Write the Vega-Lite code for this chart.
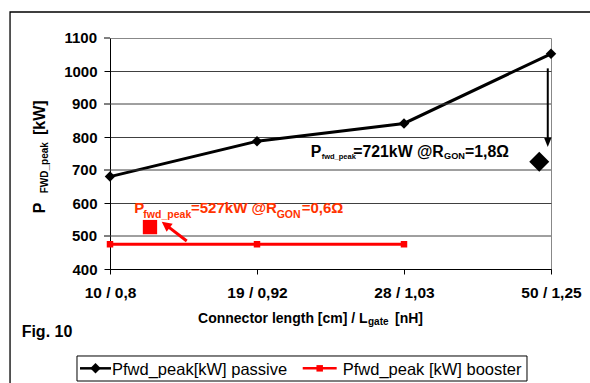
{
  "$schema": "https://vega.github.io/schema/vega-lite/v6.json",
  "width": 441,
  "height": 231,
  "autosize": {"type": "none"},
  "padding": {"left": 110, "top": 38, "right": 39, "bottom": 114},
  "background": "white",
  "config": {
    "view": {"stroke": "#888888", "strokeWidth": 1},
    "font": "Liberation Sans",
    "axisY": {"tickCount": 7, "format": "d", "grid": true, "gridColor": "#404040", "gridOpacity": 1, "tickSize": 6, "tickColor": "black", "domainColor": "black",
      "labelFont": "Liberation Sans", "labelFontWeight": "bold", "labelFontSize": 15, "labelColor": "black", "labelPadding": 7, "labelOverlap": false},
    "axisX": {"grid": false, "tickSize": 5, "tickColor": "black", "domainColor": "black", "labelFlush": false, "labelOverlap": false,
      "labelFont": "Liberation Sans", "labelFontWeight": "bold", "labelFontSize": 15.5, "labelColor": "black", "labelPadding": 11}
  },
  "layer": [
    {
      "data": {"values": [
        {"x": 0, "v": 680, "s": "Pfwd_peak[kW] passive"},
        {"x": 1, "v": 787, "s": "Pfwd_peak[kW] passive"},
        {"x": 2, "v": 841, "s": "Pfwd_peak[kW] passive"},
        {"x": 3, "v": 1052, "s": "Pfwd_peak[kW] passive"},
        {"x": 0, "v": 475, "s": "Pfwd_peak [kW] booster"},
        {"x": 1, "v": 475, "s": "Pfwd_peak [kW] booster"},
        {"x": 2, "v": 475, "s": "Pfwd_peak [kW] booster"}
      ]},
      "layer": [
        {
          "mark": {"type": "line", "strokeWidth": 3},
          "encoding": {
            "x": {"field": "x", "type": "quantitative",
              "scale": {"domain": [0, 3], "nice": false, "zero": false},
              "axis": {"title": null, "values": [0, 1, 2, 3],
                "labelExpr": "['10 / 0,8','19 / 0,92','28 / 1,03','50 / 1,25'][datum.value]"}},
            "y": {"field": "v", "type": "quantitative",
              "scale": {"domain": [400, 1100], "nice": false, "zero": false},
              "axis": {"title": null, "values": [400, 500, 600, 700, 800, 900, 1000, 1100], "format": "d"}},
            "color": {"field": "s", "type": "nominal",
              "scale": {"domain": ["Pfwd_peak[kW] passive", "Pfwd_peak [kW] booster"], "range": ["#000000", "#ff0000"]},
              "legend": null}
          }
        },
        {
          "mark": {"type": "point", "filled": true, "opacity": 1},
          "encoding": {
            "x": {"field": "x", "type": "quantitative"},
            "y": {"field": "v", "type": "quantitative"},
            "color": {"field": "s", "type": "nominal", "legend": null},
            "shape": {"field": "s", "type": "nominal",
              "scale": {"domain": ["Pfwd_peak[kW] passive", "Pfwd_peak [kW] booster"], "range": ["diamond", "square"]}, "legend": null},
            "size": {"field": "s", "type": "nominal",
              "scale": {"domain": ["Pfwd_peak[kW] passive", "Pfwd_peak [kW] booster"], "range": [110, 42]}, "legend": null}
          }
        }
      ]
    },
    {
      "data": {"values": [{"g": 500}, {"g": 700}, {"g": 900}]},
      "mark": {"type": "rule", "color": "#404040", "strokeWidth": 1},
      "encoding": {"y": {"field": "g", "type": "quantitative"}}
    },
    {
      "data": {"values": [{"g": 500}, {"g": 700}, {"g": 900}, {"g": 1100}]},
      "mark": {"type": "rule", "color": "black", "strokeWidth": 1},
      "encoding": {"x": {"datum": -0.0408}, "x2": {"datum": 0}, "y": {"field": "g", "type": "quantitative"}}
    },
    {
      "data": {"values": [{"g": 500, "t": "500"}, {"g": 700, "t": "700"}, {"g": 900, "t": "900"}, {"g": 1100, "t": "1100"}]},
      "mark": {"type": "text", "align": "right", "baseline": "middle", "font": "Liberation Sans", "fontWeight": "bold", "fontSize": 15, "color": "black"},
      "encoding": {"x": {"datum": -0.0884}, "y": {"field": "g", "type": "quantitative"}, "text": {"field": "t", "type": "nominal"}}
    },
    {
      "data": {"values": [{}]},
      "mark": {"type": "rect", "fillOpacity": 0, "stroke": "black", "strokeWidth": 1.3},
      "encoding": {"x": {"datum": -0.68}, "x2": {"datum": 3.6}, "y": {"datum": 1178.8}, "y2": {"datum": -100}}
    },
    {
      "data": {"values": [{}]},
      "mark": {"type": "point", "shape": "diamond", "filled": true, "color": "black", "opacity": 1, "size": 400},
      "encoding": {"x": {"datum": 2.92}, "y": {"datum": 725}}
    },
    {
      "data": {"values": [{}]},
      "mark": {"type": "point", "shape": "square", "filled": true, "color": "#ff0000", "opacity": 1, "size": 205},
      "encoding": {"x": {"datum": 0.272}, "y": {"datum": 527}}
    },
    {
      "data": {"values": [{}]},
      "mark": {"type": "rule", "color": "black", "strokeWidth": 2},
      "encoding": {"x": {"datum": 2.978}, "y": {"datum": 1008}, "y2": {"datum": 797}}
    },
    {
      "data": {"values": [{}]},
      "mark": {"type": "point", "shape": "M0,0L-0.4,1L0.4,1Z", "filled": true, "color": "black", "opacity": 1, "size": 324, "angle": 180},
      "encoding": {"x": {"datum": 2.978}, "y": {"datum": 770}}
    },
    {
      "data": {"values": [{}]},
      "mark": {"type": "rule", "color": "#ff0000", "strokeWidth": 3},
      "encoding": {"x": {"datum": 0.522}, "y": {"datum": 484.8}, "x2": {"datum": 0.395}, "y2": {"datum": 528.5}}
    },
    {
      "data": {"values": [{}]},
      "mark": {"type": "point", "shape": "M0,0L-0.5,1L0.5,1Z", "filled": true, "color": "#ff0000", "opacity": 1, "size": 400, "angle": 307.7},
      "encoding": {"x": {"datum": 0.352}, "y": {"datum": 543.3}}
    },
    {
      "data": {"values": [{}]},
      "mark": {"type": "rect", "fill": "white", "stroke": "black", "strokeWidth": 1},
      "encoding": {"x": {"datum": -0.2245}, "x2": {"datum": 2.8367}, "y": {"datum": 136.4}, "y2": {"datum": 60.6}}
    },
    {
      "data": {"values": [
        {"x": -0.204, "x2": 0.0068, "y": 99, "s": "Pfwd_peak[kW] passive"},
        {"x": 1.311, "x2": 1.542, "y": 99, "s": "Pfwd_peak [kW] booster"}
      ]},
      "mark": {"type": "rule", "strokeWidth": 2.5},
      "encoding": {"x": {"field": "x", "type": "quantitative"}, "x2": {"field": "x2"}, "y": {"field": "y", "type": "quantitative"},
        "color": {"field": "s", "type": "nominal", "legend": null}}
    },
    {
      "data": {"values": [
        {"x": -0.0986, "y": 99, "s": "Pfwd_peak[kW] passive"},
        {"x": 1.4265, "y": 99, "s": "Pfwd_peak [kW] booster"}
      ]},
      "mark": {"type": "point", "filled": true, "opacity": 1},
      "encoding": {"x": {"field": "x", "type": "quantitative"}, "y": {"field": "y", "type": "quantitative"},
        "color": {"field": "s", "type": "nominal", "legend": null},
        "shape": {"field": "s", "type": "nominal", "legend": null},
        "size": {"field": "s", "type": "nominal", "legend": null}}
    },
    {
      "data": {"values": [
        {"x": 0.0136, "y": 77.3, "t": "Pfwd_peak[kW] passive"},
        {"x": 1.583, "y": 77.3, "t": "Pfwd_peak [kW] booster"}
      ]},
      "mark": {"type": "text", "align": "left", "baseline": "alphabetic", "font": "Liberation Sans", "fontSize": 16.5, "color": "black"},
      "encoding": {"x": {"field": "x", "type": "quantitative"}, "y": {"field": "y", "type": "quantitative"}, "text": {"field": "t", "type": "nominal"}}
    },
    {
      "data": {"values": [
        {"x": 1.365, "y": 740.3, "t": "P"},
        {"x": 1.655, "y": 740.3, "t": "=721kW @R"},
        {"x": 2.415, "y": 740.3, "t": "=1,8Ω"}
      ]},
      "mark": {"type": "text", "align": "left", "baseline": "alphabetic", "font": "Liberation Sans", "fontWeight": "bold", "fontSize": 15.8, "color": "black"},
      "encoding": {"x": {"field": "x", "type": "quantitative"}, "y": {"field": "y", "type": "quantitative"}, "text": {"field": "t", "type": "nominal"}}
    },
    {
      "data": {"values": [{"x": 1.44, "y": 734.8, "t": "fwd_peak"}]},
      "mark": {"type": "text", "align": "left", "baseline": "alphabetic", "font": "Liberation Sans", "fontWeight": "bold", "fontSize": 7.5, "color": "black"},
      "encoding": {"x": {"field": "x", "type": "quantitative"}, "y": {"field": "y", "type": "quantitative"}, "text": {"field": "t", "type": "nominal"}}
    },
    {
      "data": {"values": [{"x": 2.272, "y": 734.8, "t": "GON"}]},
      "mark": {"type": "text", "align": "left", "baseline": "alphabetic", "font": "Liberation Sans", "fontWeight": "bold", "fontSize": 9.2, "color": "black"},
      "encoding": {"x": {"field": "x", "type": "quantitative"}, "y": {"field": "y", "type": "quantitative"}, "text": {"field": "t", "type": "nominal"}}
    },
    {
      "data": {"values": [
        {"x": 0.165, "y": 568.8, "t": "P"},
        {"x": 0.551, "y": 568.8, "t": "=527kW @R"},
        {"x": 1.304, "y": 568.8, "t": "=0,6Ω"}
      ]},
      "mark": {"type": "text", "align": "left", "baseline": "alphabetic", "font": "Liberation Sans", "fontWeight": "bold", "fontSize": 15, "color": "#ff3300"},
      "encoding": {"x": {"field": "x", "type": "quantitative"}, "y": {"field": "y", "type": "quantitative"}, "text": {"field": "t", "type": "nominal"}}
    },
    {
      "data": {"values": [
        {"x": 0.227, "y": 555.5, "t": "fwd_peak"},
        {"x": 1.134, "y": 555.5, "t": "GON"}
      ]},
      "mark": {"type": "text", "align": "left", "baseline": "alphabetic", "font": "Liberation Sans", "fontWeight": "bold", "fontSize": 10.5, "color": "#ff3300"},
      "encoding": {"x": {"field": "x", "type": "quantitative"}, "y": {"field": "y", "type": "quantitative"}, "text": {"field": "t", "type": "nominal"}}
    },
    {
      "data": {"values": [
        {"x": -0.442, "y": 568.8, "t": "P"},
        {"x": -0.442, "y": 806, "t": "[kW]"}
      ]},
      "mark": {"type": "text", "align": "left", "baseline": "alphabetic", "angle": 270, "font": "Liberation Sans", "fontWeight": "bold", "fontSize": 16, "color": "black"},
      "encoding": {"x": {"field": "x", "type": "quantitative"}, "y": {"field": "y", "type": "quantitative"}, "text": {"field": "t", "type": "nominal"}}
    },
    {
      "data": {"values": [{"x": -0.425, "y": 629.4, "t": "FWD_peak"}]},
      "mark": {"type": "text", "align": "left", "baseline": "alphabetic", "angle": 270, "font": "Liberation Sans", "fontWeight": "bold", "fontSize": 10, "color": "black"},
      "encoding": {"x": {"field": "x", "type": "quantitative"}, "y": {"field": "y", "type": "quantitative"}, "text": {"field": "t", "type": "nominal"}}
    },
    {
      "data": {"values": [
        {"x": 0.599, "y": 237.3, "t": "Connector length [cm] / L"},
        {"x": 1.939, "y": 237.3, "t": "[nH]"}
      ]},
      "mark": {"type": "text", "align": "left", "baseline": "alphabetic", "font": "Liberation Sans", "fontWeight": "bold", "fontSize": 14, "color": "black"},
      "encoding": {"x": {"field": "x", "type": "quantitative"}, "y": {"field": "y", "type": "quantitative"}, "text": {"field": "t", "type": "nominal"}}
    },
    {
      "data": {"values": [{"x": 1.755, "y": 230.3, "t": "gate"}]},
      "mark": {"type": "text", "align": "left", "baseline": "alphabetic", "font": "Liberation Sans", "fontWeight": "bold", "fontSize": 10, "color": "black"},
      "encoding": {"x": {"field": "x", "type": "quantitative"}, "y": {"field": "y", "type": "quantitative"}, "text": {"field": "t", "type": "nominal"}}
    },
    {
      "data": {"values": [{"x": -0.601, "y": 194.9, "t": "Fig. 10"}]},
      "mark": {"type": "text", "align": "left", "baseline": "alphabetic", "font": "Liberation Sans", "fontWeight": "bold", "fontSize": 16, "color": "black"},
      "encoding": {"x": {"field": "x", "type": "quantitative"}, "y": {"field": "y", "type": "quantitative"}, "text": {"field": "t", "type": "nominal"}}
    }
  ]
}
